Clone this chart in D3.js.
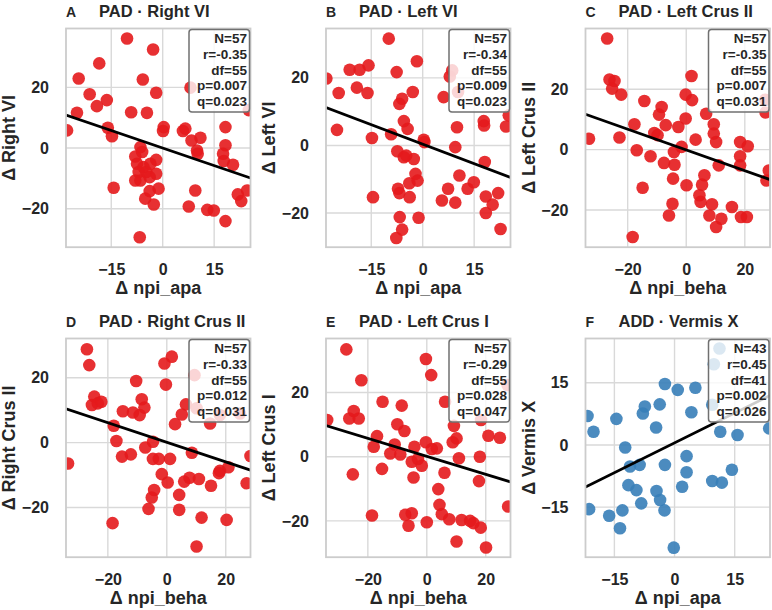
<!DOCTYPE html>
<html><head><meta charset="utf-8">
<script src="https://cdn.jsdelivr.net/npm/d3@7"></script>
<style>
body{margin:0;background:#fff;}
svg{display:block;font-family:"Liberation Sans",Arial,Helvetica,sans-serif;}
</style>
</head><body>
<svg id="chart" width="772" height="610"></svg>
<script>
// ---------- data ----------
const panelLetters = ["A","B","C","D","E","F"];
const panelTitles = ["PAD · Right VI","PAD · Left VI","PAD · Left Crus II","PAD · Right Crus II","PAD · Left Crus I","ADD · Vermis X"];
const xLabels = ["Δ npi_apa","Δ npi_apa","Δ npi_beha","Δ npi_beha","Δ npi_beha","Δ npi_apa"];
const yLabels = ["Δ Right VI","Δ Left VI","Δ Left Crus II","Δ Right Crus II","Δ Left Crus I","Δ Vermis X"];
const xDomains = [[-28.2,25.6],[-28.2,25.6],[-34.4,28.6],[-34.2,28.4],[-34.2,28.4],[-22.2,23.8]];
const yDomains = [[-32.7,39.4],[-30.1,34.6],[-32.3,40.1],[-35.3,32.1],[-31.3,36.8],[-27.1,25.7]];
const xTicks = [[-15,0,15],[-15,0,15],[-20,0,20],[-20,0,20],[-20,0,20],[-15,0,15]];
const yTicks = [[-20,0,20],[-20,0,20],[-20,0,20],[-20,0,20],[-20,0,20],[-15,0,15]];
const statN  = [57,57,57,57,57,43];
const statR  = ["-0.35","-0.34","-0.35","-0.33","-0.29","0.45"];
const statDf = [55,55,55,55,55,41];
const statP  = ["0.007","0.009","0.007","0.012","0.028","0.002"];
const statQ  = ["0.023","0.023","0.031","0.031","0.047","0.026"];
const fitSlope = [-0.386,-0.384,-0.343,-0.302,-0.280,0.48];
const fitIntercept = [0.0,0.4,-0.1,0.1,0.1,0.5];
const groupColor = ["PAD","PAD","PAD","PAD","PAD","ADD"];

const pointsA = [[-10.4,36.1],[-2.8,32.5],[-18.5,27.9],[-24.5,22.9],[-5.8,22.6],[-21.3,17.7],[-1.9,18.2],[-16.3,15.8],[-19.2,13.8],[-25.0,11.6],[-9.2,11.8],[-4.6,11.6],[-27.9,5.8],[-16.0,6.7],[-14.8,3.9],[0.3,6.9],[0.1,5.6],[5.9,5.6],[6.6,6.4],[8.4,2.5],[11.0,3.4],[10.0,-0.8],[10.2,-1.9],[18.3,6.9],[18.3,0.9],[17.6,-1.9],[17.8,-4.3],[20.5,-5.5],[25.1,12.5],[-6.5,0.3],[-8.0,-2.8],[-7.5,-5.2],[-5.6,-6.3],[-7.0,-7.9],[-4.8,-7.9],[-1.9,-3.9],[-1.9,-8.5],[-3.8,-9.6],[-8.0,-10.7],[-6.5,-10.7],[-1.2,-13.4],[-3.8,-14.2],[-14.3,-13.1],[-5.1,-16.7],[-2.6,-18.6],[9.5,-14.0],[7.6,-19.3],[13.0,-20.4],[14.9,-20.6],[18.3,-24.1],[21.9,-15.3],[22.9,-17.5],[24.6,-14.0],[-6.7,-29.4],[8.1,19.9],[-6.0,-1.3],[-3.6,-5.2]];
const pointsB = [[-9.9,31.6],[-1.7,24.9],[-21.3,22.4],[-18.4,22.4],[-15.8,23.7],[-7.6,21.7],[-28.1,19.8],[-24.5,15.5],[-19.2,17.1],[-16.1,15.5],[-2.9,15.8],[-6.0,13.8],[-6.8,12.3],[6.1,14.3],[8.6,22.2],[10.3,15.8],[-25.0,4.6],[-5.5,7.2],[-4.4,4.9],[-14.8,2.2],[-9.2,3.3],[0.3,1.7],[0.5,1.0],[10.0,5.4],[17.8,7.2],[17.9,5.9],[24.3,5.6],[25.1,8.9],[-7.4,-1.7],[-4.8,-3.0],[-2.6,-4.0],[9.5,-0.5],[18.1,-4.9],[-2.1,-8.4],[-1.5,-10.4],[-3.9,-11.2],[10.7,-8.9],[14.9,-10.9],[13.1,-12.8],[7.4,-12.8],[-7.2,-12.8],[-6.8,-14.1],[-14.5,-15.3],[-3.8,-15.3],[5.6,-16.3],[9.5,-16.9],[18.4,-15.1],[22.0,-14.1],[20.4,-17.5],[18.4,-20.0],[-6.7,-21.2],[-1.2,-21.4],[-6.0,-24.9],[22.7,-24.7],[-7.7,-27.4],[7.9,20.4],[-5.5,-3.5]];
const pointsC = [[-27.0,36.8],[-26.2,23.2],[-24.5,22.7],[-25.3,20.2],[-22.2,18.2],[-14.3,16.1],[1.8,24.4],[-0.2,18.2],[2.0,16.4],[-8.4,14.1],[-9.3,11.6],[-7.0,8.1],[-10.9,5.5],[-9.8,4.8],[-2.7,7.5],[-0.2,10.3],[-17.7,8.4],[-33.2,3.6],[-22.8,4.0],[-16.9,-0.2],[-12.2,-2.2],[-7.6,-4.4],[-4.0,-5.0],[-4.2,-0.8],[-1.6,0.9],[3.2,3.3],[6.8,11.9],[9.4,8.4],[9.4,5.3],[10.2,2.5],[11.1,-5.2],[18.4,2.5],[21.0,1.1],[18.4,-2.2],[18.4,-5.2],[27.1,12.3],[28.2,-6.9],[27.4,-10.2],[-4.5,-9.6],[0.1,-11.8],[6.2,-8.5],[5.4,-11.6],[-14.9,-12.6],[4.5,-15.1],[4.9,-17.3],[-4.7,-17.9],[8.8,-18.1],[15.6,-19.0],[-5.9,-21.8],[7.9,-21.8],[12.0,-22.9],[18.7,-22.3],[20.7,-22.3],[10.2,-25.6],[-18.3,-28.9],[27.0,16.5]];
const pointsD = [[-27.1,28.8],[-26.3,23.9],[1.7,26.5],[-0.8,24.4],[-0.3,17.9],[-10.4,19.0],[-24.6,14.2],[-25.4,11.6],[-23.4,12.1],[-22.2,12.6],[-8.5,13.4],[-7.6,10.8],[-9.2,8.5],[-14.9,9.7],[-11.5,9.3],[6.5,11.8],[5.1,8.7],[9.4,20.8],[10.1,10.6],[14.7,5.9],[2.8,5.7],[-18.0,5.2],[-17.1,0.5],[-4.7,0.3],[-7.3,-1.5],[-15.2,-4.3],[-12.2,-3.6],[-4.7,-5.0],[-2.7,-5.0],[1.1,-5.0],[8.5,-3.1],[-33.5,-6.4],[-1.7,-9.7],[0.3,-12.3],[5.9,-12.0],[7.7,-10.8],[10.9,-11.2],[15.0,-13.3],[27.1,-12.5],[-4.3,-14.6],[-5.1,-16.9],[4.2,-16.1],[-6.2,-20.4],[4.2,-20.7],[11.8,-23.1],[20.3,-23.8],[-18.4,-24.8],[10.1,-32.0],[20.9,-7.6],[18.0,-8.7],[17.7,-9.4],[28.4,-4.1],[18.0,8.5],[24.8,9.0]];
const pointsE = [[-27.3,33.4],[-0.3,30.4],[1.5,25.4],[-22.2,23.8],[-15.0,17.1],[-8.5,15.9],[6.2,17.1],[-24.8,14.2],[-26.3,11.9],[-23.1,11.9],[-33.8,11.4],[-10.0,10.1],[-7.6,8.0],[-16.9,6.4],[-18.0,3.1],[-10.9,3.8],[-12.4,1.0],[-9.0,0.7],[-4.2,3.1],[-0.3,4.5],[1.7,2.4],[3.4,2.6],[-5.1,-1.6],[-3.0,-0.7],[-1.7,-2.8],[-25.1,-5.5],[-15.2,-3.8],[-4.5,-6.5],[6.0,-5.0],[9.2,9.6],[8.8,4.5],[10.1,5.7],[10.9,-0.5],[18.0,0.0],[20.9,6.5],[24.8,5.9],[17.7,-7.6],[27.6,-15.5],[3.9,-10.1],[4.3,-15.0],[5.1,-17.9],[7.6,-19.5],[11.8,-19.7],[14.7,-20.0],[15.8,-20.7],[18.3,-22.1],[-18.6,-18.3],[-7.3,-18.1],[-5.1,-17.6],[-6.2,-21.5],[0.0,-20.4],[10.1,-26.4],[20.1,-28.3],[18.4,11.4],[27.4,22.3]];
const pointsF = [[11.2,23.3],[9.8,19.5],[-2.4,14.7],[0.8,13.3],[5.2,13.8],[-3.7,9.8],[-7.4,9.3],[-7.9,7.6],[4.2,7.9],[9.4,9.7],[-21.7,7.0],[-14.5,6.3],[-20.2,3.2],[-4.6,4.2],[11.4,3.2],[15.7,2.4],[23.6,4.0],[-12.3,-0.6],[-11.1,-5.2],[-8.7,-4.8],[-2.4,-4.8],[3.0,-2.7],[3.0,-6.6],[-11.5,-9.7],[-9.5,-10.9],[-4.5,-11.1],[1.9,-10.1],[9.4,-8.7],[11.8,-9.1],[14.3,-6.0],[-3.6,-13.3],[-8.3,-14.1],[-21.3,-15.5],[-16.3,-17.1],[-13.0,-15.8],[-2.5,-15.8],[-13.6,-20.1],[-0.2,-24.8]];
const allPoints = [pointsA,pointsB,pointsC,pointsD,pointsE,pointsF];

// ---------- layout ----------
const colLeft = [66, 326, 585.5];
const rowTop = [28.5, 338.5];
const W = 184.5, H = 218.7;
const colors = {PAD:"#e41a1c", ADD:"#377eb8"};

const svg = d3.select("#chart");
svg.append("rect").attr("width",772).attr("height",610).attr("fill","#fff");

panelLetters.forEach((L,i)=>{
  const col = i%3, row = Math.floor(i/3);
  const g = svg.append("g").attr("transform",`translate(${colLeft[col]},${rowTop[row]})`);
  const x = d3.scaleLinear().domain(xDomains[i]).range([0,W]);
  const y = d3.scaleLinear().domain(yDomains[i]).range([H,0]);

  // grid
  g.append("g").selectAll("line").data(xTicks[i]).join("line")
    .attr("x1",d=>x(d)).attr("x2",d=>x(d)).attr("y1",0).attr("y2",H)
    .attr("stroke","#d9d9d9").attr("stroke-width",1.4);
  g.append("g").selectAll("line").data(yTicks[i]).join("line")
    .attr("y1",d=>y(d)).attr("y2",d=>y(d)).attr("x1",0).attr("x2",W)
    .attr("stroke","#d9d9d9").attr("stroke-width",1.4);

  // clip
  const cid = "clip"+i;
  g.append("clipPath").attr("id",cid).append("rect").attr("width",W).attr("height",H);
  const pg = g.append("g").attr("clip-path",`url(#${cid})`);
  pg.selectAll("circle").data(allPoints[i]).join("circle")
    .attr("cx",d=>x(d[0])).attr("cy",d=>y(d[1])).attr("r",6.3)
    .attr("fill",colors[groupColor[i]]).attr("fill-opacity",0.9);
  const xd = xDomains[i];
  pg.append("line")
    .attr("x1",x(xd[0])).attr("y1",y(fitSlope[i]*xd[0]+fitIntercept[i]))
    .attr("x2",x(xd[1])).attr("y2",y(fitSlope[i]*xd[1]+fitIntercept[i]))
    .attr("stroke","#000").attr("stroke-width",2.8);

  // frame
  g.append("rect").attr("width",W).attr("height",H).attr("fill","none")
    .attr("stroke","#cccccc").attr("stroke-width",1.8);

  // axes
  const ax = g.append("g").attr("transform",`translate(0,${H})`)
    .call(d3.axisBottom(x).tickValues(xTicks[i]).tickSize(0).tickPadding(16));
  const ay = g.append("g")
    .call(d3.axisLeft(y).tickValues(yTicks[i]).tickSize(0).tickPadding(17));
  [ax,ay].forEach(a=>{
    a.select(".domain").remove();
    a.selectAll("text").attr("font-size",16).attr("font-weight","bold")
      .attr("fill","#262626").attr("font-family","'Liberation Sans',Arial,sans-serif");
  });

  // stats box
  const bw = 60.5, bh = 82.5;
  g.append("rect").attr("x",W-bw-1).attr("y",1).attr("width",bw).attr("height",bh)
    .attr("rx",3).attr("fill","#fff").attr("fill-opacity",0.8)
    .attr("stroke","#707070").attr("stroke-width",1.5);
  const lines = [`N=${statN[i]}`,`r=${statR[i]}`,`df=${statDf[i]}`,`p=${statP[i]}`,`q=${statQ[i]}`];
  g.append("g").selectAll("text").data(lines).join("text")
    .attr("x",W-3.5).attr("y",(d,k)=>14.4+k*15.8)
    .attr("text-anchor","end").attr("font-size",13.5).attr("font-weight","bold")
    .attr("fill","#262626").text(d=>d);

  // title + letter
  g.append("text").attr("x",0).attr("y",-12).attr("font-size",14)
    .attr("font-weight","bold").attr("fill","#262626").text(L);
  g.append("text").attr("x",33).attr("y",-12).attr("font-size",16.5)
    .attr("font-weight","bold").attr("fill","#262626").text(panelTitles[i]);

  // axis labels
  g.append("text").attr("x",W/2).attr("y",H+47).attr("text-anchor","middle")
    .attr("font-size",18).attr("font-weight","bold").attr("fill","#262626").text(xLabels[i]);
  g.append("text").attr("transform",`translate(-51,${H/2}) rotate(-90)`)
    .attr("text-anchor","middle").attr("font-size",18).attr("font-weight","bold")
    .attr("fill","#262626").text(yLabels[i]);
});
</script>
</body></html>
